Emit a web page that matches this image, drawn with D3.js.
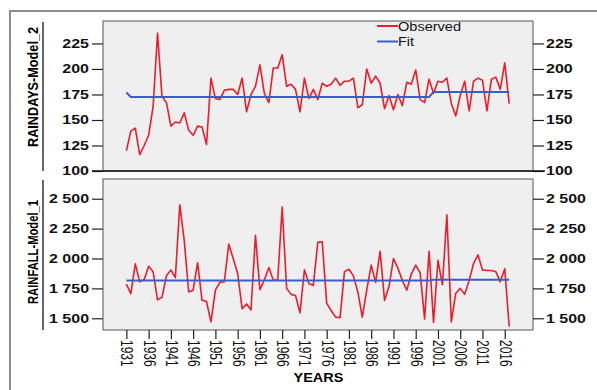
<!DOCTYPE html>
<html>
<head>
<meta charset="utf-8">
<script src="https://cdn.jsdelivr.net/npm/d3@7"></script>
<style>
  body { margin: 0; background: #fff; }
  svg { display: block; font-family: "Liberation Sans", Arial, sans-serif; }
</style>
</head>
<body>
<svg></svg>
<script>
// observed series, one value per year 1931..2017
var years = d3.range(1931, 2018);

var raindays = [120,139,142,116,125,135,163,235,173,167,
                144,148,147,157,140,135,144,143,126,191,
                171,170,179,180,180,175,191,158,175,183,
                204,176,167,201,201,214,183,185,180,158,
                191,171,180,170,186,183,185,191,184,188,
                188,191,162,165,200,186,193,186,161,174,
                160,175,164,187,185,199,170,167,190,176,
                188,187,191,166,154,174,188,159,188,191,
                189,159,190,192,180,206,166];

var rainfall = [1785,1705,1955,1805,1825,1935,1890,1655,1675,1855,
                1905,1840,2450,2150,1720,1735,1965,1650,1640,1470,
                1735,1800,1805,2120,2000,1875,1580,1620,1570,2195,
                1740,1820,1925,1820,1820,2430,1750,1700,1690,1545,
                1905,1790,1775,2135,2140,1625,1565,1510,1505,1890,
                1910,1855,1720,1510,1735,1945,1800,2060,1650,1765,
                2000,1920,1815,1735,1870,1945,1880,1495,2060,1465,
                1985,1780,2365,1470,1710,1750,1700,1815,1960,2030,
                1905,1900,1900,1890,1805,1915,1430];

// fitted model lines (break points)
var fitDaysYears = [1931, 1932, 1999, 2000, 2017];
var fitDaysValues = [177, 172.5, 172.5, 177.5, 177.5];
var fitFallYears = [1931, 1999, 2000, 2017];
var fitFallValues = [1815, 1815, 1822, 1822];

// tick labels
var daysTicks = [100, 125, 150, 175, 200, 225];
var fallTicks = [1500, 1750, 2000, 2250, 2500];
var yearTicks = d3.range(1931, 2017, 5);

var width = 597, height = 390;
var left = 103, right = 533;
var red = "#ec1c2a", blue = "#3a5ec6";

var svg = d3.select("svg").attr("width", width).attr("height", height);

// outer frame
svg.append("rect")
  .attr("x", 10).attr("y", 11)
  .attr("width", 600).attr("height", 400)
  .attr("fill", "none")
  .attr("stroke", "#8e8e8e")
  .attr("stroke-width", 2);

var x = d3.scaleLinear().domain([1925.75, 2022.35]).range([left, right]);
var yTop = d3.scaleLinear().domain([100, 247]).range([171, 21]);
var yBot = d3.scaleLinear().domain([1402, 2665]).range([330, 179]);

var spaced = d3.formatLocale({decimal: ".", thousands: " ", grouping: [3], currency: ["", ""]}).format(",");

function stretch(sel, k) {
  sel.each(function() {
    var w = this.getComputedTextLength();
    d3.select(this).attr("textLength", w * k).attr("lengthAdjust", "spacingAndGlyphs");
  });
}

function panel(y, ticks, fmt, values, fitYears, fitValues, top, bottom) {
  svg.append("rect")
    .attr("x", left).attr("y", top)
    .attr("width", right - left).attr("height", bottom - top)
    .attr("fill", "#efefef")
    .attr("stroke", "#555")
    .attr("stroke-width", 1);

  var gl = svg.append("g")
    .attr("transform", "translate(" + left + ",0)")
    .call(d3.axisLeft(y).tickValues(ticks).tickFormat(fmt).tickSize(11).tickPadding(3));
  var gr = svg.append("g")
    .attr("transform", "translate(" + right + ",0)")
    .call(d3.axisRight(y).tickValues(ticks).tickFormat(fmt).tickSize(11).tickPadding(2));

  [gl, gr].forEach(function(g) {
    g.select(".domain").remove();
    g.selectAll("line").attr("stroke", "#222").attr("stroke-width", 1.2);
    g.selectAll("text")
      .attr("fill", "#111")
      .style("font-size", "12px")
      .style("font-weight", "bold")
      .style("font-family", '"Liberation Sans", Arial, sans-serif')
      .call(stretch, 1.33);
  });

  // axis rule beside the title
  svg.append("line")
    .attr("x1", 43).attr("x2", 43)
    .attr("y1", top + 1).attr("y2", bottom)
    .attr("stroke", "#333").attr("stroke-width", 1.5);

  var line = d3.line().x(function(d) { return x(d[0]); }).y(function(d) { return y(d[1]); });

  svg.append("path")
    .datum(years.map(function(yr, i) { return [yr, values[i]]; }))
    .attr("d", line)
    .attr("fill", "none")
    .attr("stroke", red)
    .attr("stroke-width", 1.6)
    .attr("stroke-linejoin", "round");

  svg.append("path")
    .datum(fitYears.map(function(yr, i) { return [yr, fitValues[i]]; }))
    .attr("d", line)
    .attr("fill", "none")
    .attr("stroke", blue)
    .attr("stroke-width", 2);
}

panel(yTop, daysTicks, d3.format("d"), raindays, fitDaysYears, fitDaysValues, 21, 171);
panel(yBot, fallTicks, spaced, rainfall, fitFallYears, fitFallValues, 179, 330);

// darker base line of the upper panel
svg.append("line")
  .attr("x1", 92).attr("x2", 545)
  .attr("y1", 171).attr("y2", 171)
  .attr("stroke", "#111").attr("stroke-width", 1.3);

// x axis
var gx = svg.append("g")
  .attr("transform", "translate(0,330)")
  .call(d3.axisBottom(x).tickValues(yearTicks).tickFormat(d3.format("d")).tickSize(9));
gx.select(".domain").remove();
gx.selectAll("line").attr("stroke", "#222").attr("stroke-width", 1.2);
gx.selectAll("text")
  .attr("x", 0).attr("y", 0).attr("dy", null)
  .attr("transform", "translate(0,10) rotate(90) scale(1,1.3)")
  .attr("text-anchor", "start")
  .attr("dominant-baseline", "central")
  .attr("fill", "#111")
  .style("font-size", "12px")
  .style("font-family", '"Liberation Sans", Arial, sans-serif');

svg.append("text")
  .attr("x", 318.5).attr("y", 382)
  .attr("text-anchor", "middle")
  .style("font-size", "13px")
  .style("font-weight", "bold")
  .attr("textLength", 50).attr("lengthAdjust", "spacingAndGlyphs")
  .text("YEARS");

// y titles
svg.append("text")
  .attr("transform", "translate(33,87) rotate(-90) scale(1,1.25)")
  .attr("text-anchor", "middle")
  .attr("dominant-baseline", "central")
  .style("font-size", "12px")
  .style("font-weight", "bold")
  .attr("textLength", 120).attr("lengthAdjust", "spacingAndGlyphs")
  .text("RAINDAYS-Model_2");

svg.append("text")
  .attr("transform", "translate(33,252) rotate(-90) scale(1,1.25)")
  .attr("text-anchor", "middle")
  .attr("dominant-baseline", "central")
  .style("font-size", "12px")
  .style("font-weight", "bold")
  .attr("textLength", 104).attr("lengthAdjust", "spacingAndGlyphs")
  .text("RAINFALL-Model_1");

// legend
var legend = [{name: "Observed", color: red, y: 26, w: 63}, {name: "Fit", color: blue, y: 41.5, w: 16}];
legend.forEach(function(d) {
  svg.append("line")
    .attr("x1", 377).attr("x2", 398)
    .attr("y1", d.y).attr("y2", d.y)
    .attr("stroke", d.color).attr("stroke-width", 2);
  svg.append("text")
    .attr("x", 398).attr("y", d.y + 4.5)
    .style("font-size", "12px")
    .attr("fill", "#111")
    .attr("textLength", d.w).attr("lengthAdjust", "spacingAndGlyphs")
    .text(d.name);
});
</script>
</body>
</html>
